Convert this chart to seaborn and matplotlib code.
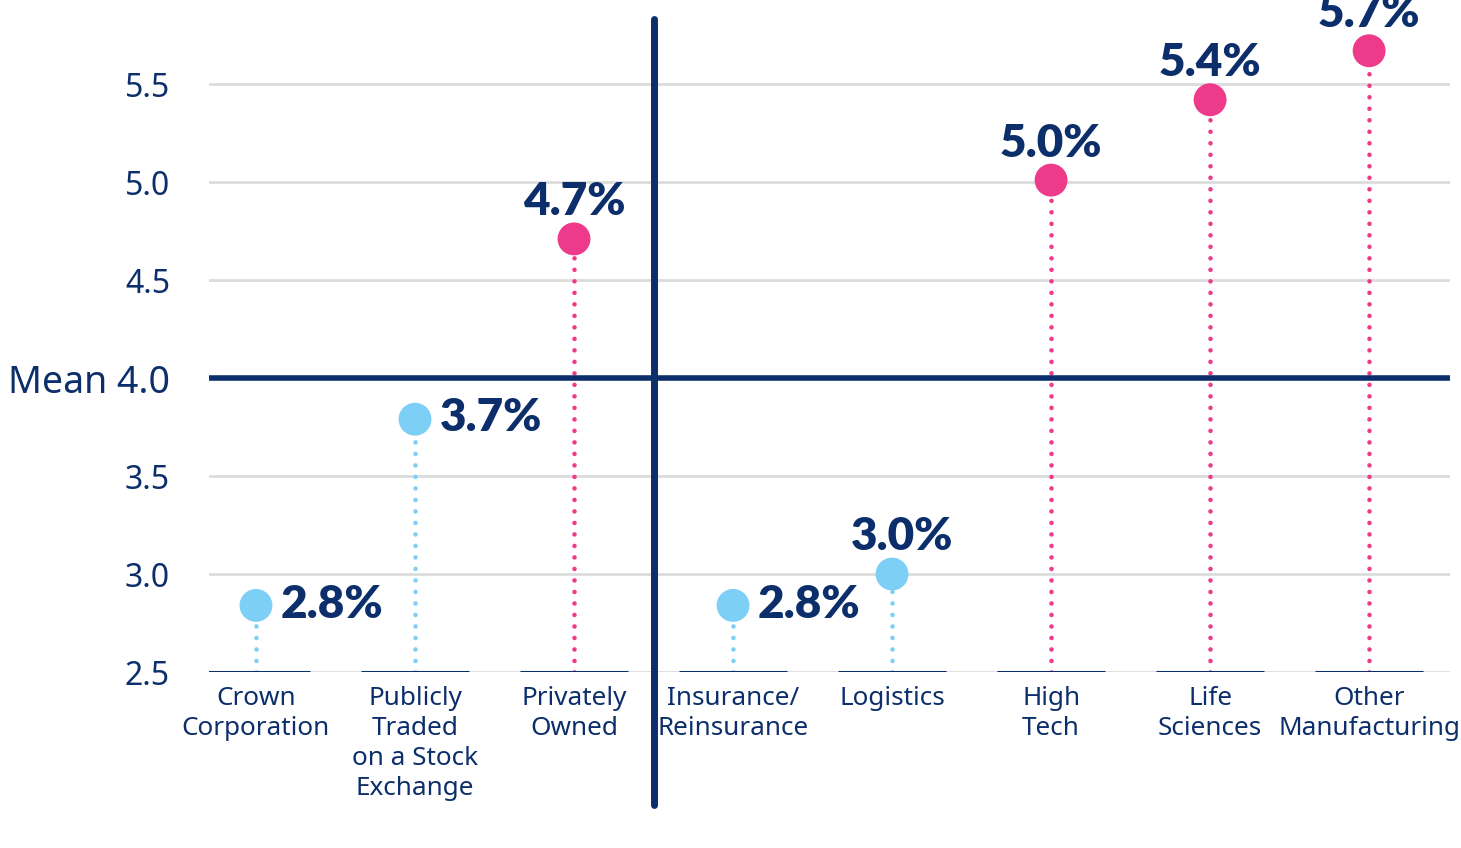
import numpy as np
import pandas as pd
import seaborn as sns
import matplotlib
matplotlib.use("Agg")
import matplotlib.pyplot as plt

categories = ["Crown\nCorporation", "Publicly\nTraded\non a Stock\nExchange", "Privately\nOwned",
              "Insurance/\nReinsurance", "Logistics", "High\nTech", "Life\nSciences", "Other\nManufacturing"]
values = [2.84, 3.79, 4.71, 2.84, 3.00, 5.01, 5.42, 5.67]
value_labels = ["2.8%", "3.7%", "4.7%", "2.8%", "3.0%", "5.0%", "5.4%", "5.7%"]
mean_value = 4.0
y_ticks = [2.5, 3.0, 3.5, 4.0, 4.5, 5.0, 5.5]
y_tick_labels = ["2.5", "3.0", "3.5", "Mean 4.0", "4.5", "5.0", "5.5"]

NAVY = "#0c2f6b"
PINK = "#ee3a8a"
BLUE = "#7dcff5"
GRID = "#dcdcdc"

df = pd.DataFrame({"cat": categories, "value": values, "label": value_labels})
df["x"] = np.arange(len(df))
df["group"] = np.where(df["value"] > mean_value, "above", "below")
palette = {"above": PINK, "below": BLUE}

sns.set_theme(style="white")
plt.rcParams["font.family"] = ["Noto Sans", "DejaVu Sans"]

fig = plt.figure(figsize=(14.61, 8.48), dpi=100)
ax = fig.add_axes([0.143, 0.2075, 0.8495, 0.7925])

base = y_ticks[0]
# dotted stems
for _, r in df.iterrows():
    ax.plot([r["x"], r["x"]], [base, r["value"]], color=palette[r["group"]],
            lw=3.3, linestyle=(0, (0.01, 2.5)), dash_capstyle="round", zorder=2)

sns.scatterplot(data=df, x="x", y="value", hue="group", palette=palette, s=560,
                edgecolor="none", legend=False, ax=ax, zorder=3)

# baseline segments under each category
ax.hlines([base] * len(df), df["x"] - 0.34, df["x"] + 0.34, color=NAVY, lw=2.2, zorder=2)

ax.axhline(mean_value, color=NAVY, lw=4, zorder=2)
ax.axvline(2.5, ymin=-0.198, ymax=0.971, color=NAVY, lw=5, clip_on=False, zorder=2)

# value labels
side_labels = {0, 1, 3}
for i, r in df.iterrows():
    if i in side_labels:
        ax.annotate(r["label"], (r["x"], r["value"]), xytext=(18, 1), textcoords="offset points",
                    ha="left", va="center", fontsize=33, fontweight="heavy", color=NAVY,
                    family=["Lato", "DejaVu Sans"], annotation_clip=False)
    else:
        dx = 7 if r["group"] == "below" else 0
        ax.annotate(r["label"], (r["x"], r["value"]), xytext=(dx, 17), textcoords="offset points",
                    ha="center", va="baseline", fontsize=33, fontweight="heavy", color=NAVY,
                    family=["Lato", "DejaVu Sans"], annotation_clip=False)

ax.set_xlim(-0.296, 7.509)
ax.set_ylim(2.5, 5.929)
ax.set_yticks(y_ticks)
ax.set_yticklabels(y_tick_labels)
ax.set_xticks(df["x"])
ax.set_xticklabels(df["cat"], linespacing=1.27)
ax.tick_params(axis="y", length=0, pad=28, labelsize=23, labelcolor=NAVY)
ax.tick_params(axis="x", length=0, pad=10, labelsize=18.8, labelcolor=NAVY)
for t in ax.get_yticklabels():
    if t.get_text().startswith("Mean"):
        t.set_fontsize(27)

ax.grid(axis="y", color=GRID, lw=2)
ax.grid(axis="x", visible=False)
ax.set_axisbelow(True)
for s in ax.spines.values():
    s.set_visible(False)
ax.set_xlabel("")
ax.set_ylabel("")

fig.savefig("out.png", dpi=100)
